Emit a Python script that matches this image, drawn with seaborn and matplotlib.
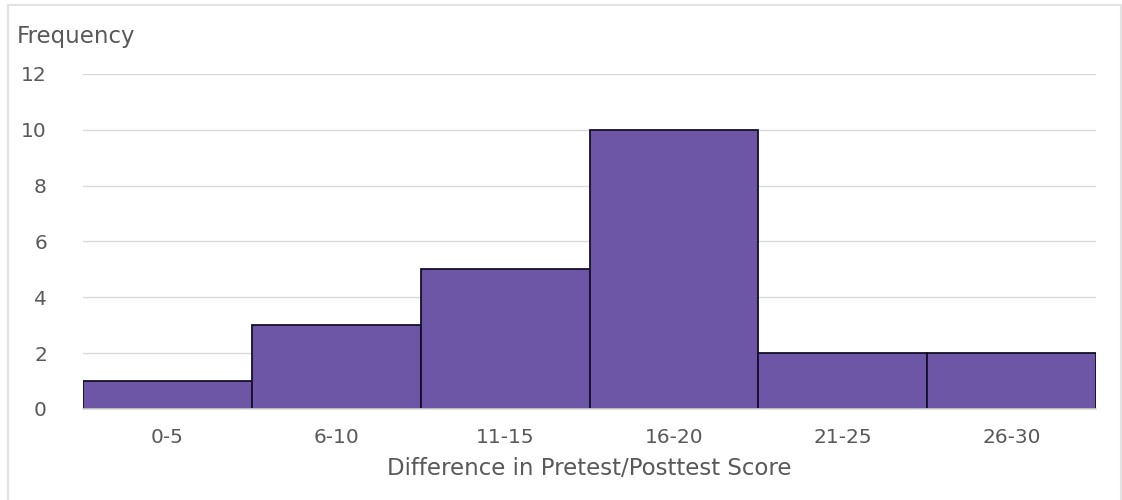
import matplotlib
matplotlib.use("Agg")
import matplotlib.pyplot as plt
import seaborn as sns
import pandas as pd
from matplotlib.patches import Rectangle

# Score-difference bins and how many students fell in each
score_bins = ["0-5", "6-10", "11-15", "16-20", "21-25", "26-30"]
frequency = [1, 3, 5, 10, 2, 2]
y_ticks = [0, 2, 4, 6, 8, 10, 12]

df = pd.DataFrame({"bin": score_bins, "count": frequency})

sns.set_theme(style="white")
plt.rcParams["font.family"] = ["DejaVu Sans"]

text_color = "#595959"
grid_color = "#d9d9d9"

fig = plt.figure(figsize=(11.22, 5.0), dpi=100)
ax = fig.add_axes([0.074, 0.182, 0.903, 0.670])

sns.barplot(data=df, x="bin", y="count", order=score_bins, color="#6e56a6",
            saturation=1, width=1.0, edgecolor="#14102a", linewidth=1.3,
            ax=ax, zorder=3)

ax.set_ylim(0, 12)
ax.set_xlim(-0.5, len(score_bins) - 0.5)
ax.set_yticks(y_ticks)
ax.yaxis.grid(True, color=grid_color, linewidth=1.0, zorder=0)
ax.set_axisbelow(True)

for side in ["top", "right", "left"]:
    ax.spines[side].set_visible(False)
ax.spines["bottom"].set_color(grid_color)
ax.spines["bottom"].set_linewidth(1.2)
ax.spines["bottom"].set_zorder(4)

ax.tick_params(axis="both", length=0, labelsize=14.5, labelcolor=text_color)
ax.tick_params(axis="y", pad=26)
ax.tick_params(axis="x", pad=14)

ax.set_xlabel("Difference in Pretest/Posttest Score", fontsize=16.5,
              color=text_color, labelpad=7)
ax.set_ylabel("")
fig.text(17 / 1122, 1 - 37 / 500, "Frequency", fontsize=16.5,
         color=text_color, ha="left", va="center")

# Light chart-area frame
fig.patches.append(Rectangle((7.5 / 1122, -0.05), (1121 - 7.5) / 1122, 1.04,
                             transform=fig.transFigure, fill=False,
                             edgecolor="#e3e3e3", linewidth=1.5))

fig.savefig("out.png", dpi=100, facecolor="white")
